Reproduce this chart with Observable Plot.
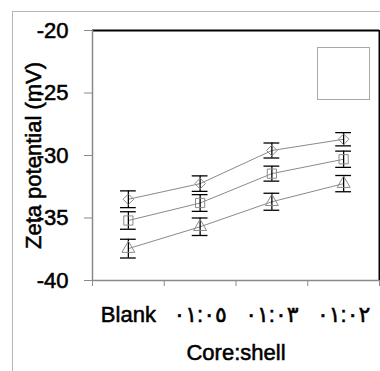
<!DOCTYPE html>
<html>
<head>
<meta charset="utf-8">
<script src="https://cdn.jsdelivr.net/npm/d3@7"></script>
<script src="https://cdn.jsdelivr.net/npm/@observablehq/plot@0.6"></script>
<style>
  html, body { margin: 0; padding: 0; background: #fff; }
  #wrap { position: relative; width: 380px; height: 371px; overflow: hidden; }
  #wrap svg { position: absolute; left: 0; top: 0; }
  #wrap svg text { stroke: black; stroke-width: 0.55px; }
  #outer { position: absolute; left: 12px; top: 11px; width: 400px; height: 400px;
           border-left: 1px solid #b4b4b4; border-top: 1px solid #b4b4b4; }
  #legend { position: absolute; left: 317px; top: 47px; width: 51px; height: 51px;
            border: 1px solid #a8a8a8; background: #fff; }
</style>
</head>
<body>
<div id="wrap"><div id="outer"></div></div>
<script>
const categories = ["Blank", "٠١:٠٥", "٠١:٠٣", "٠١:٠٢"];
const yTicks = [-40, -35, -30, -25, -20];

const diamondValues  = [-33.5, -32.25, -29.6, -28.7];
const diamondErr     = [0.67, 0.62, 0.6, 0.53];
const squareValues   = [-35.2, -33.8, -31.45, -30.3];
const squareErr      = [0.7, 0.67, 0.6, 0.65];
const triangleValues = [-37.45, -35.7, -33.7, -32.25];
const triangleErr    = [0.75, 0.7, 0.68, 0.65];

const seriesDefs = [
  {name: "diamond",  symbol: "diamond2", r: 4.8, values: diamondValues,  err: diamondErr},
  {name: "square",   symbol: "square",   r: 5.2, values: squareValues,   err: squareErr},
  {name: "triangle", symbol: "triangle", r: 4.8, values: triangleValues, err: triangleErr}
];

const rows = seriesDefs.flatMap(s => s.values.map((v, i) => ({
  series: s.name, x: i + 0.5, y: v, lo: v - s.err[i], hi: v + s.err[i]
})));

const capHalf = 0.11;
const gray = "#8a8a8a";

const chart = Plot.plot({
  width: 380,
  height: 371,
  marginLeft: 92,
  marginRight: 1,
  marginTop: 30,
  marginBottom: 91,
  style: {fontFamily: "'Liberation Sans', Arial, 'DejaVu Sans', sans-serif", fontSize: "22px", background: "transparent", color: "black"},
  x: {domain: [0, categories.length]},
  y: {domain: [-40, -20]},
  marks: [
    Plot.ruleY([-20], {stroke: "black", strokeWidth: 2}),
    Plot.ruleX([categories.length], {stroke: "black", strokeWidth: 2}),
    Plot.ruleX([0], {stroke: gray, strokeWidth: 1.5}),
    Plot.ruleY([-40], {stroke: gray, strokeWidth: 1.5}),
    Plot.axisY({ticks: yTicks, tickSize: 8, tickPadding: 16, tickFormat: d => String(d), label: null, stroke: gray, fill: "black"}),
    Plot.axisX({ticks: d3.range(categories.length + 1), tickSize: 6, tickFormat: () => "", label: null, stroke: gray}),
    Plot.axisX({ticks: categories.map((c, i) => i + 0.5), tickSize: 0, tickPadding: 26, tickFormat: d => categories[Math.floor(d)], label: null, fill: "black"}),
    Plot.line(rows, {x: "x", y: "y", z: "series", stroke: gray, strokeWidth: 1}),
    Plot.ruleX(rows, {x: "x", y1: "lo", y2: "hi", stroke: "black", strokeWidth: 1.3}),
    Plot.ruleY(rows, {y: "hi", x1: d => d.x - capHalf, x2: d => d.x + capHalf, stroke: "black", strokeWidth: 1.3}),
    Plot.ruleY(rows, {y: "lo", x1: d => d.x - capHalf, x2: d => d.x + capHalf, stroke: "black", strokeWidth: 1.3}),
    ...seriesDefs.map(s => Plot.dot(rows.filter(d => d.series === s.name), {x: "x", y: "y", symbol: s.symbol, r: s.r, stroke: gray, fill: "none", strokeWidth: 1})),
    Plot.text(["Zeta potential (mV)"], {frameAnchor: "left", dx: -59, rotate: -90, textAnchor: "middle", lineAnchor: "middle", fill: "black", fontSize: 22}),
    Plot.text(["Core:shell"], {frameAnchor: "bottom", dy: 72, textAnchor: "middle", lineAnchor: "middle", fill: "black", fontSize: 22})
  ]
});
document.getElementById("wrap").appendChild(chart);
const legend = document.createElement("div");
legend.id = "legend";
document.getElementById("wrap").appendChild(legend);
</script>
</body>
</html>
